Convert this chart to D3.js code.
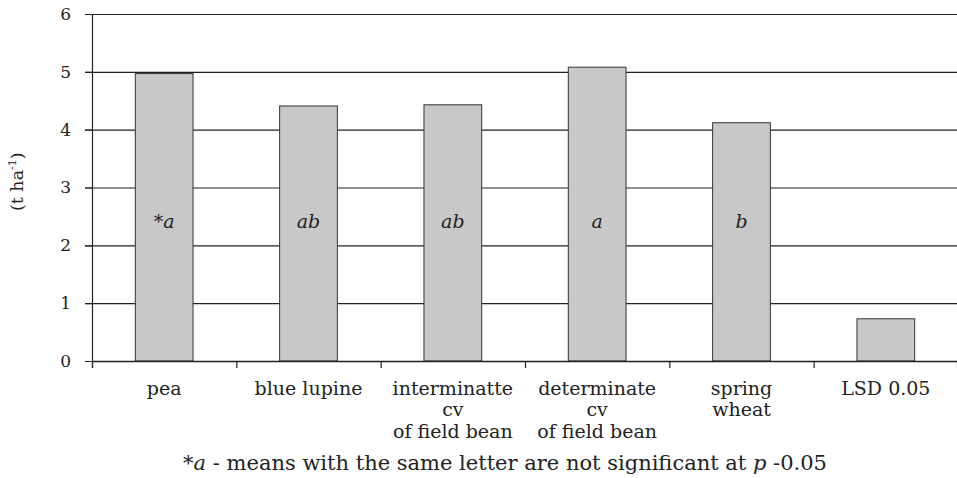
<!DOCTYPE html>
<html><head><meta charset="utf-8">
<script src="https://cdn.jsdelivr.net/npm/d3@7"></script>
<style>body{margin:0;background:#fff}svg{display:block}text{font-family:"DejaVu Serif",serif;fill:#222}</style>
</head><body>
<svg id="c" width="957" height="478"></svg>
<script>
const categories = [["pea"],["blue lupine"],["interminatte","cv","of field bean"],["determinate","cv","of field bean"],["spring","wheat"],["LSD 0.05"]];
const values = [4.97, 4.41, 4.43, 5.08, 4.12, 0.73];
const letters = ["*a","ab","ab","a","b",""];
const yTicks = [0,1,2,3,4,5,6];

const svg = d3.select("#c");
const m = {l:92, r:-1, t:14, b:117};
const W = 957, H = 478;
const x = d3.scaleBand().domain(d3.range(categories.length)).range([m.l, W - m.r]).paddingInner(0).paddingOuter(0);
const y = d3.scaleLinear().domain([0,6]).range([H - m.b, m.t]);

// gridlines
svg.append("g").selectAll("line").data(yTicks).join("line")
  .attr("x1", m.l - 7).attr("x2", W).attr("y1", d=>y(d)+0.5).attr("y2", d=>y(d)+0.5)
  .attr("stroke","#222").attr("stroke-width",1.2);

// y axis
const ya = svg.append("g").attr("transform",`translate(${m.l},0)`)
  .call(d3.axisLeft(y).tickValues(yTicks).tickFormat(d3.format("d")).tickSize(7).tickPadding(14));
ya.select(".domain").remove();
ya.selectAll("text").style("font-size","17px").attr("fill","#222");
ya.selectAll("line").attr("stroke","#222");
svg.append("line").attr("x1",m.l+0.5).attr("x2",m.l+0.5).attr("y1",y(6)).attr("y2",y(0)+7).attr("stroke","#222").attr("stroke-width",1.2);

// bars
const bw = x.bandwidth()*0.4;
svg.append("g").selectAll("rect").data(values).join("rect")
  .attr("x",(d,i)=>x(i)+x.bandwidth()/2-bw/2).attr("width",bw)
  .attr("y",d=>y(d)).attr("height",d=>y(0)-y(d))
  .attr("fill","#c8c8c8").attr("stroke","#333").attr("stroke-width",1);

// x axis ticks
svg.append("g").selectAll("line").data(d3.range(categories.length+1)).join("line")
  .attr("x1",i=>(i<categories.length?x(i):W)+0.5).attr("x2",i=>(i<categories.length?x(i):W)+0.5)
  .attr("y1",y(0)).attr("y2",y(0)+7).attr("stroke","#222").attr("stroke-width",1.2);
svg.append("line").attr("x1",m.l).attr("x2",W).attr("y1",y(0)+0.5).attr("y2",y(0)+0.5).attr("stroke","#222").attr("stroke-width",1.4);

// category labels
const cl = svg.append("g").selectAll("text").data(categories).join("text")
  .attr("text-anchor","middle").style("font-size","19px")
  .attr("x",(d,i)=>x(i)+x.bandwidth()/2).attr("y",y(0)+33.5);
cl.selectAll("tspan").data(d=>d).join("tspan")
  .attr("x",function(){return this.parentNode.getAttribute("x");})
  .attr("dy",(d,j)=>j===0?0:21.5).text(d=>d);

// letters in bars
svg.append("g").selectAll("text").data(letters).join("text")
  .attr("text-anchor","middle").style("font-size","19px").style("font-style","italic")
  .attr("x",(d,i)=>x(i)+x.bandwidth()/2).attr("y",y(2.4)+6)
  .text(d=>d);

// y title
const yt = svg.append("text").attr("transform",`translate(23,${y(3.1)}) rotate(-90)`).attr("text-anchor","middle").style("font-size","17.5px");
yt.append("tspan").text("(t ha");
yt.append("tspan").attr("dy",-7).style("font-size","11px").text("-1");
yt.append("tspan").attr("dy",7).text(")");

// footnote
const fn = svg.append("text").attr("x",505).attr("y",470).attr("text-anchor","middle").style("font-size","21px");
fn.append("tspan").text("*");
fn.append("tspan").style("font-style","italic").text("a");
fn.append("tspan").text(" - means with the same letter are not significant at ");
fn.append("tspan").style("font-style","italic").text("p");
fn.append("tspan").text(" -0.05");
</script>
</body></html>
